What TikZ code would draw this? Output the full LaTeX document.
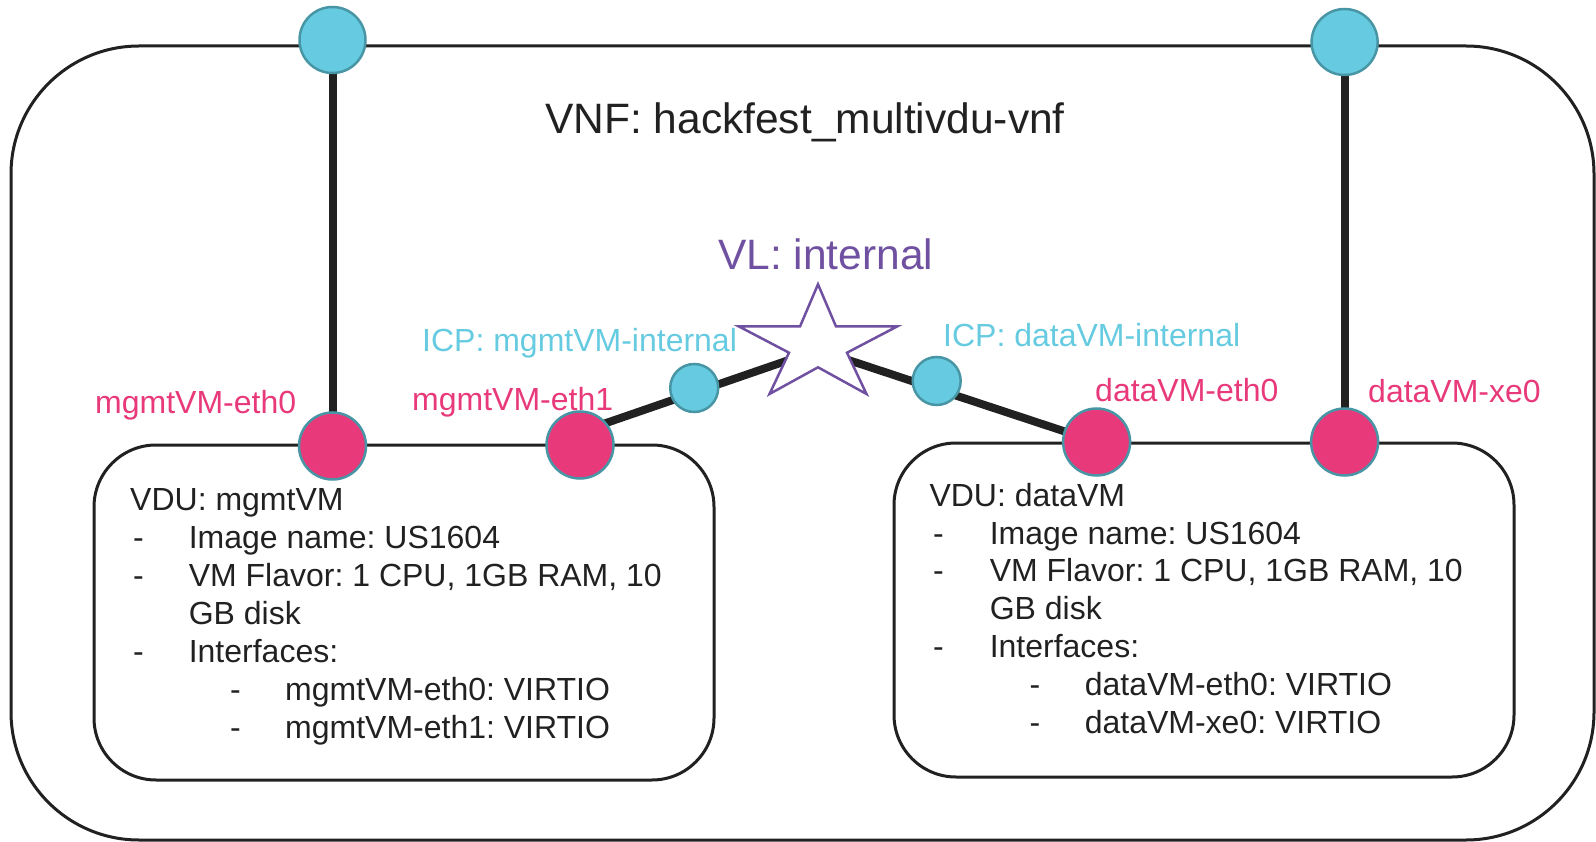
\documentclass[tikz,border=0pt]{standalone}
\usepackage{fontspec}
\setmainfont{Liberation Sans}
\usetikzlibrary{backgrounds}
\frenchspacing
\definecolor{cyanfill}{RGB}{102,203,224}
\definecolor{rimteal}{RGB}{72,150,165}
\definecolor{pinkc}{RGB}{232,57,122}
\definecolor{purplec}{RGB}{112,80,160}
\definecolor{darkl}{RGB}{33,33,33}
\begin{document}
\begin{tikzpicture}[x=1pt,y=-1pt,
  boxline/.style={draw=darkl,line width=3pt},
  thickline/.style={draw=darkl,line width=8pt},
  cyandot/.style={circle,fill=cyanfill,draw=rimteal,line width=2.5pt,inner sep=0pt},
  pinkdot/.style={circle,fill=pinkc,draw=rimteal,line width=2.5pt,inner sep=0pt,minimum size=67pt},
  bigcyan/.style={cyandot,minimum size=66pt},
  smallcyan/.style={cyandot,minimum size=48pt},
  txt/.style={anchor=base west,inner sep=0pt,text=darkl,font=\fontsize{32}{38}\selectfont},
  pinktxt/.style={txt,text=pinkc},
  cyantxt/.style={txt,text=cyanfill},
  bigtxt/.style={anchor=base west,inner sep=0pt,font=\fontsize{42.5}{50}\selectfont}]
\useasboundingbox (0,0) rectangle (1596,842);
% outer VNF box
\draw[boxline,rounded corners=128pt] (11,46) rectangle (1594,840);
% VDU boxes
\draw[boxline,rounded corners=62pt] (94,445) rectangle (714,780);
\draw[boxline,rounded corners=62pt] (894,443) rectangle (1514,777);
% points
\coordinate (vl) at (818,350);
\coordinate (e1in) at (580,432);
\node[bigcyan] (cpl) at (332.5,40) {};
\node[bigcyan] (cpr) at (1344.6,42) {};
\node[pinkdot] (eth0m) at (332.5,446) {};
\node[pinkdot] (eth1m) at (580,445) {};
\node[pinkdot] (eth0d) at (1096.6,442) {};
\node[pinkdot] (xe0d) at (1344.6,442) {};
\node[smallcyan] (icpm) at (694.2,388) {};
\node[smallcyan] (icpd) at (936.7,381) {};
% thick connectors (behind dots)
\begin{scope}[on background layer]
\draw[thickline] (cpl.center) -- (eth0m.center);
\draw[thickline] (cpr.center) -- (xe0d.center);
\draw[thickline] (e1in) -- (vl);
\draw[thickline] (vl) -- (eth0d.center);
\end{scope}
% star (VL)
\draw[draw=purplec,fill=white,line width=2.5pt,line join=miter]
  (818,284.3) -- (836,326.5) -- (897,326.5) -- (847,352.7) -- (866.5,394)
  -- (818,367.3) -- (769.5,394) -- (789,352.7) -- (739,326.5) -- (800,326.5) -- cycle;
% texts
\node[bigtxt,text=darkl] (title) at (545,134) {VNF: hackfest\_multivdu-vnf};
\node[bigtxt,text=purplec] (vltxt) at (718,269.5) {VL: internal};
\node[cyantxt] (icpmt) at (422,352) {ICP: mgmtVM-internal};
\node[cyantxt] (icpdt) at (943,347) {ICP: dataVM-internal};
\node[pinktxt] (eth0mt) at (95,413) {mgmtVM-eth0};
\node[pinktxt] (eth1mt) at (412,410) {mgmtVM-eth1};
\node[pinktxt] (eth0dt) at (1095,401.5) {dataVM-eth0};
\node[pinktxt] (xe0dt) at (1368,402) {dataVM-xe0};
% left VDU text
\node[txt] (l1) at (130,510.7) {VDU: mgmtVM};
\node[txt] (l2) at (130,548.6) {\makebox[58.6pt][l]{\hspace{3pt}-}Image name: US1604};
\node[txt] (l3) at (130,586.5) {\makebox[58.6pt][l]{\hspace{3pt}-}VM Flavor: 1 CPU, 1GB RAM, 10};
\node[txt] (l4) at (130,624.4) {\makebox[58.6pt][l]{}GB disk};
\node[txt] (l5) at (130,662.3) {\makebox[58.6pt][l]{\hspace{3pt}-}Interfaces:};
\node[txt] (l6) at (130,700.5) {\makebox[155pt][l]{\hspace{100pt}-}mgmtVM-eth0: VIRTIO};
\node[txt] (l7) at (130,738.3) {\makebox[155pt][l]{\hspace{100pt}-}mgmtVM-eth1: VIRTIO};
% right VDU text
\node[txt] (r1) at (929.3,506) {VDU: dataVM};
\node[txt] (r2) at (929.3,544) {\makebox[60.3pt][l]{\hspace{3.5pt}-}Image name: US1604};
\node[txt] (r3) at (929.3,581.8) {\makebox[60.3pt][l]{\hspace{3.5pt}-}VM Flavor: 1 CPU, 1GB RAM, 10};
\node[txt] (r4) at (929.3,619.6) {\makebox[60.3pt][l]{}GB disk};
\node[txt] (r5) at (929.3,657.5) {\makebox[60.3pt][l]{\hspace{3.5pt}-}Interfaces:};
\node[txt] (r6) at (929.3,695.3) {\makebox[155.3pt][l]{\hspace{100pt}-}dataVM-eth0: VIRTIO};
\node[txt] (r7) at (929.3,733.3) {\makebox[155.3pt][l]{\hspace{100pt}-}dataVM-xe0: VIRTIO};
\end{tikzpicture}
\end{document}
